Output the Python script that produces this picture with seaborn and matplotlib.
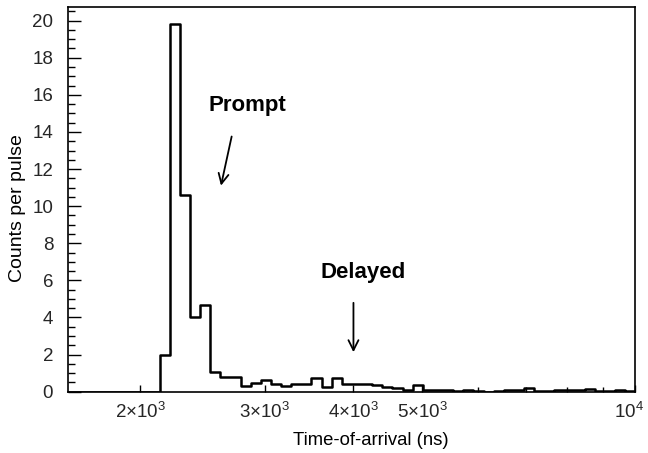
import numpy as np
import pandas as pd
import matplotlib
matplotlib.use("Agg")
import matplotlib.pyplot as plt
import matplotlib.transforms as mtransforms
import seaborn as sns
from matplotlib.ticker import FixedLocator, FixedFormatter, NullFormatter

# ---- data -------------------------------------------------------------
log_t_min = 3.2          # log10 of lower edge (ns)
log_t_max = 4.0          # log10 of upper edge (ns)
n_bins = 56
counts = [0, 0, 0, 0, 0, 0, 0, 0, 0,
          2.0, 19.8, 10.6, 4.0, 4.7, 1.08, 0.8, 0.8, 0.3, 0.47, 0.65,
          0.43, 0.29, 0.43, 0.43, 0.73, 0.25, 0.73, 0.43, 0.43, 0.43,
          0.35, 0.28, 0.2, 0.1, 0.38, 0.1, 0.08, 0.08, 0.04, 0.08,
          0.05, 0.0, 0.03, 0.08, 0.1, 0.18, 0.05, 0.03, 0.1, 0.08,
          0.08, 0.15, 0.05, 0.05, 0.1, 0.05]
x_ticks = [2000, 3000, 4000, 5000, 10000]
x_tick_labels = [r"$2{\times}10^{3}$", r"$3{\times}10^{3}$", r"$4{\times}10^{3}$",
                 r"$5{\times}10^{3}$", r"$10^{4}$"]
x_minor = [6000, 7000, 8000, 9000]
y_ticks = [0, 2, 4, 6, 8, 10, 12, 14, 16, 18, 20]

edges_log = np.linspace(log_t_min, log_t_max, n_bins + 1)
centers = 10 ** ((edges_log[:-1] + edges_log[1:]) / 2)
df = pd.DataFrame({"t": centers, "w": counts})

# ---- style ------------------------------------------------------------
sns.set_theme(style="white")
plt.rcParams["font.family"] = ["Liberation Sans", "DejaVu Sans"]
plt.rcParams["mathtext.fontset"] = "custom"
plt.rcParams["mathtext.rm"] = "Liberation Sans"
plt.rcParams["mathtext.it"] = "Liberation Sans:italic"
plt.rcParams["mathtext.bf"] = "Liberation Sans:bold"

fig = plt.figure(figsize=(6.48, 4.53), dpi=100)
ax = fig.add_axes([0.1057, 0.1353, 0.875, 0.8499])

sns.histplot(data=df, x="t", weights="w", bins=n_bins,
             binrange=(log_t_min, log_t_max), log_scale=True,
             element="step", fill=False, color="black", linewidth=1.8, ax=ax)

ax.set_xlim(10 ** log_t_min, 10 ** log_t_max)
ax.set_ylim(0, 20.75)

for s in ax.spines.values():
    s.set_visible(True)
    s.set_color("black")
    s.set_linewidth(1.2)

ax.xaxis.set_major_locator(FixedLocator(x_ticks))
ax.xaxis.set_major_formatter(FixedFormatter(x_tick_labels))
ax.xaxis.set_minor_locator(FixedLocator(x_minor))
ax.xaxis.set_minor_formatter(NullFormatter())
ax.set_yticks(y_ticks)
ax.yaxis.set_minor_locator(FixedLocator(np.arange(0, 20.6, 0.5)))

ax.tick_params(axis="x", which="major", direction="in", length=5, width=1,
               color="black", labelsize=13.5, pad=7, bottom=True, top=False)
ax.tick_params(axis="x", which="minor", direction="in", length=3.5, width=1,
               color="black", bottom=True, top=False)
ax.tick_params(axis="y", which="major", direction="in", length=9, width=1,
               color="black", labelsize=13.5, pad=11, left=True, right=False)
ax.tick_params(axis="y", which="minor", direction="in", length=5, width=1,
               color="black", left=True, right=False)

# keep the last x tick label inside the figure
last_lbl = ax.get_xticklabels()[-1]
last_lbl.set_transform(last_lbl.get_transform() +
                       mtransforms.ScaledTranslation(-5 / 72, 0, fig.dpi_scale_trans))

ax.set_xlabel("Time-of-arrival (ns)", fontsize=13.3, color="black")
ax.set_ylabel("Counts per pulse", fontsize=14, color="black")
ax.xaxis.set_label_coords(0.534, -0.105)
ax.yaxis.set_label_coords(-0.075, 0.477)

ax.text(2831, 15.4, "Prompt", fontsize=16, fontweight="bold",
        ha="center", va="center", color="black")
ax.annotate("", xy=(2596, 10.96), xytext=(2698, 13.9),
            arrowprops=dict(arrowstyle="->", color="black", lw=1.3,
                            mutation_scale=18))
ax.text(4130, 6.4, "Delayed", fontsize=16, fontweight="bold",
        ha="center", va="center", color="black")
ax.annotate("", xy=(4000, 1.98), xytext=(4000, 4.94),
            arrowprops=dict(arrowstyle="->", color="black", lw=1.3,
                            mutation_scale=18))

fig.savefig("out.png", dpi=100)
